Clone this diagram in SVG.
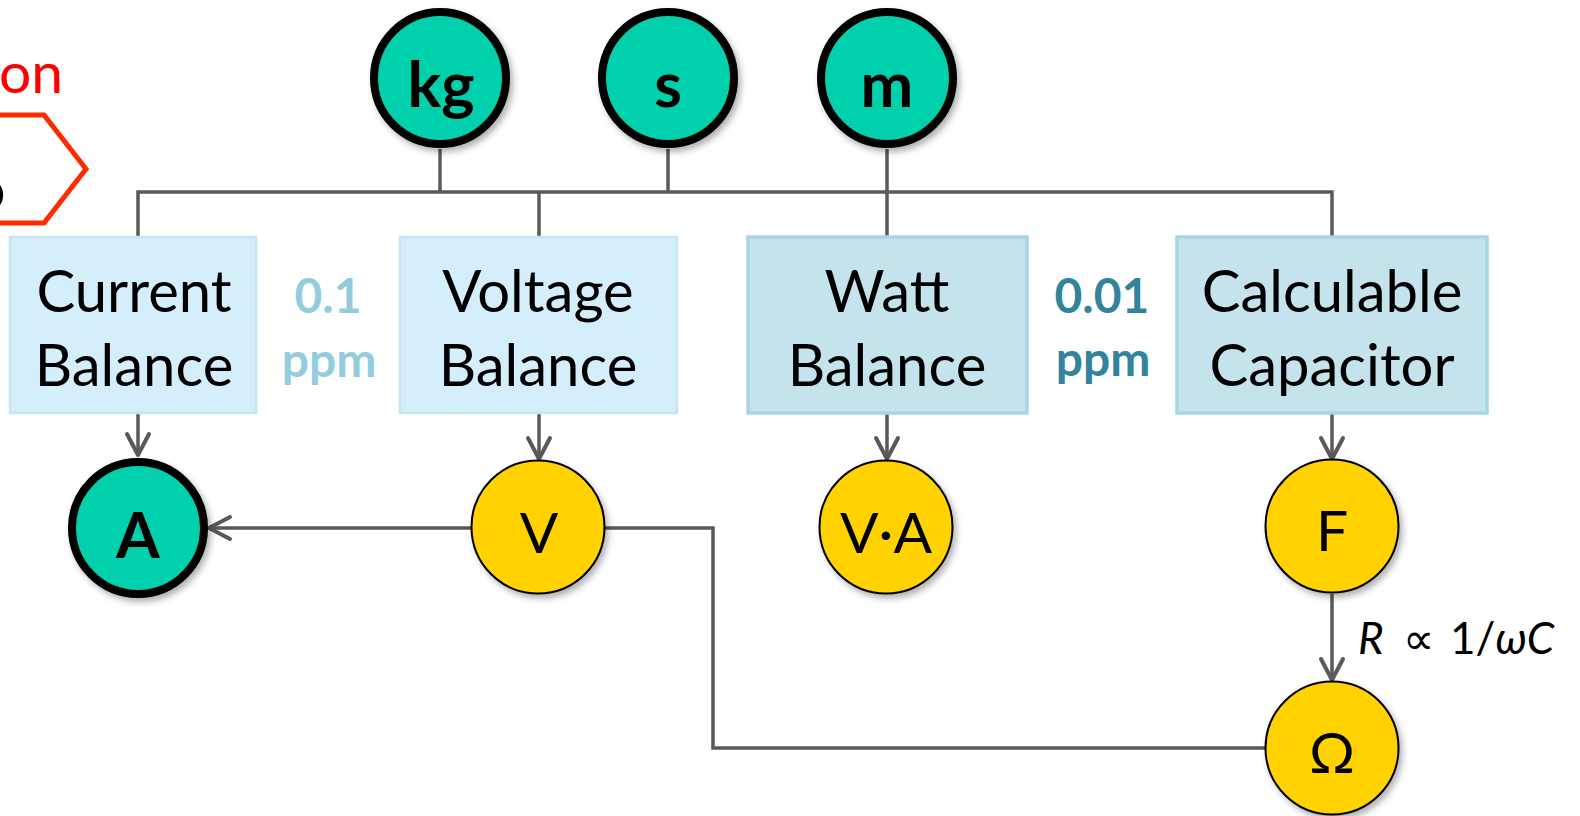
<svg xmlns="http://www.w3.org/2000/svg" width="1580" height="816" viewBox="0 0 1580 816">
<style>
.box1{fill:#D5EEFB;stroke:#C6E6F1;stroke-width:2.5}
.box2{fill:#C4E3EC;stroke:#A6D6E4;stroke-width:3.5}
.lbl{font-family:Lato,"Open Sans",sans-serif;font-size:58px;fill:#000;text-anchor:middle}
.sym{font-family:Lato,"Open Sans",sans-serif;font-size:57px;fill:#000;text-anchor:middle}
.big{font-family:Lato,"Open Sans",sans-serif;font-size:63px;font-weight:bold;fill:#000;text-anchor:middle}
.ppm1{font-family:Lato,"Open Sans",sans-serif;font-size:48px;font-weight:bold;fill:#93CDDD;text-anchor:middle}
.ppm2{font-family:Lato,"Open Sans",sans-serif;font-size:48px;font-weight:bold;fill:#31849B;text-anchor:middle}
.unit{fill:#00D0AB;stroke:#000;stroke-width:8}
.der{fill:#FFD200;stroke:#000;stroke-width:2}
.con{fill:none;stroke:#595959;stroke-width:3.5}
.sh{filter:url(#ds)}
</style>
<defs>
<filter id="ds" x="-20%" y="-20%" width="150%" height="150%">
<feDropShadow dx="3" dy="4" stdDeviation="3" flood-color="#000" flood-opacity="0.3"/>
</filter>
<marker id="arr" markerUnits="userSpaceOnUse" viewBox="-26 -15 30 30" refX="0" refY="0" markerWidth="30" markerHeight="30" orient="auto">
<path d="M-21,-11 L0,0 L-21,11" fill="none" stroke="#595959" stroke-width="4" stroke-linecap="round" stroke-linejoin="round"/>
</marker>
</defs>

<g id="partial-label">
<text x="-1" y="93" font-family="Lato,'Open Sans',sans-serif" font-size="57" fill="#FF0000">on</text>
<polygon points="-60,115 44,115 86,169 44,223 -60,223" fill="none" stroke="#FF2A00" stroke-width="5"/>
<text x="5" y="210" font-family="Lato,'Open Sans',sans-serif" font-size="58" font-weight="bold" fill="#000" text-anchor="end">o</text>
</g>

<g id="connectors">
<path class="con" d="M138,237 V192 H1332 V236"/>
<path class="con" d="M440,149 V192"/>
<path class="con" d="M668,149 V192"/>
<path class="con" d="M887,149 V236"/>
<path class="con" d="M539,192 V236"/>
<path class="con" d="M138,413 V455" marker-end="url(#arr)"/>
<path class="con" d="M539,413 V459" marker-end="url(#arr)"/>
<path class="con" d="M887,413 V459" marker-end="url(#arr)"/>
<path class="con" d="M1332,413 V459" marker-end="url(#arr)"/>
<path class="con" d="M1332,594 V680" marker-end="url(#arr)"/>
<path class="con" d="M472,528 H209" marker-end="url(#arr)"/>
<path class="con" d="M605,528 H713 V748 H1266"/>
</g>

<g id="kg"><circle class="unit sh" cx="440" cy="78" r="66"/><text class="big" x="441" y="107">kg</text></g>
<g id="s"><circle class="unit sh" cx="668" cy="78" r="66"/><text class="big" x="668" y="107">s</text></g>
<g id="m"><circle class="unit sh" cx="887" cy="78" r="66"/><text class="big" x="887" y="107">m</text></g>

<g id="current-balance"><rect class="box1" x="10" y="237" width="246" height="176"/><text class="lbl" x="134" y="312">Current</text><text class="lbl" x="134" y="386">Balance</text></g>
<g id="voltage-balance"><rect class="box1" x="400" y="237" width="277" height="176"/><text class="lbl" x="538" y="312">Voltage</text><text class="lbl" x="538" y="386">Balance</text></g>
<g id="watt-balance"><rect class="box2" x="748" y="237" width="279" height="176"/><text class="lbl" x="887" y="312">Watt</text><text class="lbl" x="887" y="386">Balance</text></g>
<g id="calculable-capacitor"><rect class="box2" x="1177" y="237" width="310" height="176"/><text class="lbl" x="1332" y="312">Calculable</text><text class="lbl" x="1332" y="386">Capacitor</text></g>

<g id="ppm-01"><text class="ppm1" x="328" y="313">0.1</text><text class="ppm1" x="329" y="377">ppm</text></g>
<g id="ppm-001"><text class="ppm2" x="1102" y="313">0.01</text><text class="ppm2" x="1103" y="376">ppm</text></g>

<g id="A"><circle class="unit sh" cx="138" cy="528" r="66"/><text class="big" x="138" y="558">A</text></g>
<g id="V"><circle class="der sh" cx="538" cy="527" r="66.5"/><text class="sym" x="539" y="553">V</text></g>
<g id="VA"><circle class="der sh" cx="886" cy="527" r="66.5"/><text class="sym" x="886" y="553">V·A</text></g>
<g id="F"><circle class="der sh" cx="1332" cy="526" r="66.5"/><text class="sym" x="1332" y="551">F</text></g>
<g id="Ohm"><circle class="der sh" cx="1332" cy="748" r="66.5"/><text class="sym" x="1332" y="773">Ω</text></g>

<g id="formula"><text y="654" font-family="Lato,'Open Sans',sans-serif" font-size="44" fill="#000"><tspan x="1358" font-style="italic">R</tspan><tspan x="1392"> ∝</tspan><tspan x="1450">1/</tspan><tspan font-style="italic">ωC</tspan></text></g>
</svg>
